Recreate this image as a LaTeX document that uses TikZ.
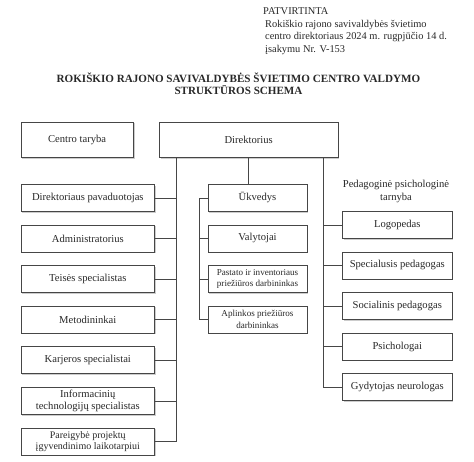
\documentclass[tikz,border=0pt]{standalone}
\usepackage{fontspec}
\setmainfont{Liberation Serif}
\usetikzlibrary{positioning, shadows}
\definecolor{frame}{RGB}{70,70,70}
\definecolor{ink}{RGB}{40,40,40}

\begin{document}
\begin{tikzpicture}[
    x=1pt, y=1pt,
    node distance=13pt,
    box/.style={draw=frame, line width=0.6pt, fill=white, text=ink, minimum height=27pt, inner sep=1pt, align=center, font=\fontsize{10.6}{11.8}\selectfont, drop shadow={shadow xshift=1.2pt, shadow yshift=-1.2pt, fill=black!40, opacity=0.5}},
    lbox/.style={box, minimum width=133.6pt},
    mbox/.style={box, minimum width=99pt},
    rbox/.style={box, minimum width=109.4pt},
    topbox/.style={box, minimum height=35.3pt},
    small/.style={font=\fontsize{9.1}{11.6}\selectfont},
    line/.style={draw=frame, line width=0.6pt}
]
\useasboundingbox (0,0) rectangle (474,-461);

% header
\node[anchor=north west, align=left, inner sep=0pt, text=ink, font=\fontsize{10.4}{12.5}\selectfont] (approved) at (263,-7.5)
  {PATVIRTINTA\\ \hspace{2pt}Rokiškio rajono savivaldybės švietimo\\ \hspace{2pt}centro direktoriaus 2024 m. rugpjūčio 14 d.\\ \hspace{2pt}įsakymu Nr. V-153};
\node[align=center, inner sep=0pt, text=ink, font=\fontsize{11.1}{12.2}\selectfont\bfseries] (title) at (238.5,-84)
  {ROKIŠKIO RAJONO SAVIVALDYBĖS ŠVIETIMO CENTRO VALDYMO\\ STRUKTŪROS SCHEMA};

% top level
\node[topbox, minimum width=112.3pt, anchor=north west] (council) at (20.7,-121.7) {Centro taryba};
\node[topbox, minimum width=178.7pt, anchor=north west] (director) at (159,-121.7) {Direktorius};

% left column
\node[lbox, anchor=north west] (deputy) at (20.7,-184) {Direktoriaus pavaduotojas};
\node[lbox, below=of deputy] (admin) {Administratorius};
\node[lbox, below=of admin] (lawyer) {Teisės specialistas};
\node[lbox, below=of lawyer] (method) {Metodininkai};
\node[lbox, below=of method] (career) {Karjeros specialistai};
\node[lbox, below=of career] (itspec) {Informacinių\\ technologijų specialistas};
\node[lbox, below=of itspec, font=\fontsize{10}{11.3}\selectfont] (project) {Pareigybė projektų\\ įgyvendinimo laikotarpiui};

% middle column
\node[mbox, anchor=north west] (keeper) at (207.7,-184) {Ūkvedys};
\node[mbox, below=of keeper] (cleaners) {Valytojai};
\node[mbox, below=of cleaners, small] (building) {Pastato ir inventoriaus\\ priežiūros darbininkas};
\node[mbox, below=of building, small] (grounds) {Aplinkos priežiūros\\ darbininkas};

% right column
\node[align=center, inner sep=0pt, text=ink, font=\fontsize{10.6}{12.5}\selectfont] (service) at (396,-191.5) {Pedagoginė psichologinė\\ tarnyba};
\node[rbox, anchor=north west] (speech) at (342.3,-211) {Logopedas};
\node[rbox, below=of speech] (special) {Specialusis pedagogas};
\node[rbox, below=of special] (social) {Socialinis pedagogas};
\node[rbox, below=of social] (psych) {Psichologai};
\node[rbox, below=of psych] (neuro) {Gydytojas neurologas};

% connectors
\coordinate (lbus) at (176.7,0);
\coordinate (mbus) at (199,0);
\coordinate (rbus) at (323.3,0);

\draw[line] (director.south -| lbus) |- (project.east);
\foreach \n in {deputy, admin, lawyer, method, career, itspec}
  \draw[line] (\n.east) -- (\n.east -| lbus);

\draw[line] (director.south) -- (director.south |- keeper.north);
\draw[line] (keeper.west) -- (keeper.west -| mbus) |- (grounds.west);
\foreach \n in {cleaners, building}
  \draw[line] (\n.west) -- (\n.west -| mbus);

\draw[line] (director.south -| rbus) |- (neuro.west);
\foreach \n in {speech, special, social, psych}
  \draw[line] (\n.west) -- (\n.west -| rbus);
\end{tikzpicture}
\end{document}
